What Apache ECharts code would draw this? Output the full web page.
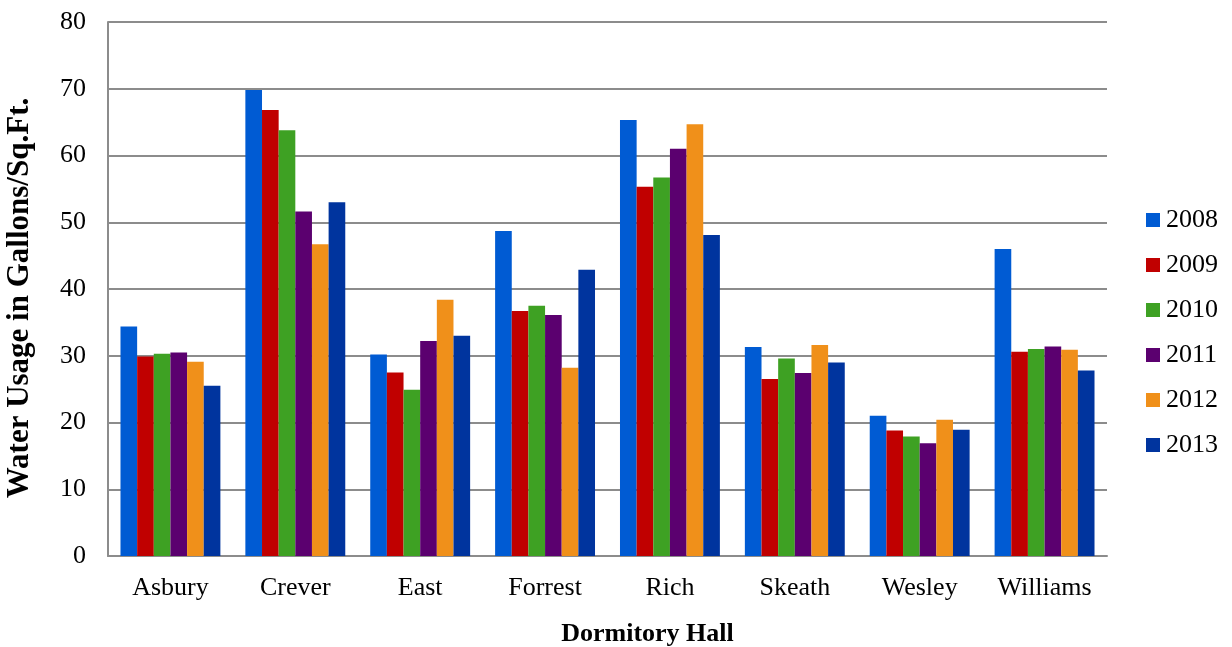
<!DOCTYPE html>
<html>
<head>
<meta charset="utf-8">
<script src="https://cdn.jsdelivr.net/npm/echarts@6/dist/echarts.min.js"></script>
<style>html,body{margin:0;padding:0;background:#fff}#c{width:1232px;height:647px}</style>
</head>
<body>
<div id="c"></div>
<script>
const categories = ['Asbury','Crever','East','Forrest','Rich','Skeath','Wesley','Williams'];
const years = ['2008','2009','2010','2011','2012','2013'];
const colors = ['#005BD3','#C00000','#3EA123','#5B006F','#F0901A','#00349E'];
const v2008 = [34.4, 69.8, 30.2, 48.7, 65.3, 31.3, 21.0, 46.0];
const v2009 = [29.9, 66.8, 27.5, 36.7, 55.3, 26.5, 18.8, 30.6];
const v2010 = [30.3, 63.8, 24.9, 37.5, 56.7, 29.6, 17.9, 31.0];
const v2011 = [30.5, 51.6, 32.2, 36.1, 61.0, 27.4, 16.9, 31.4];
const v2012 = [29.1, 46.7, 38.4, 28.2, 64.7, 31.6, 20.4, 30.9];
const v2013 = [25.5, 53.0, 33.0, 42.9, 48.1, 29.0, 18.9, 27.8];
const seriesValues = [v2008, v2009, v2010, v2011, v2012, v2013];
const yTicks = [0,10,20,30,40,50,60,70,80];

const font = 'Liberation Serif, Times New Roman, serif';
const chart = echarts.init(document.getElementById('c'));
chart.setOption({
  animation: false,
  textStyle: {fontFamily: font},
  grid: {left: 108, right: 125, top: 22, bottom: 91, containLabel: false, outerBoundsMode: 'none'},
  legend: {
    orient: 'vertical', left: 1141, top: 202,
    itemWidth: 14, itemHeight: 14, itemGap: 19,
    icon: 'rect',
    textStyle: {fontFamily: font, fontSize: 26, color: '#000', padding: [0,0,0,1]},
    data: years
  },
  xAxis: {
    type: 'category', data: categories,
    name: 'Dormitory Hall', nameLocation: 'middle', nameGap: 65,
    nameTextStyle: {fontFamily: font, fontSize: 26, fontWeight: 'bold', color: '#000', padding: [0, 0, 0, 80]},
    axisLine: {lineStyle: {color: '#8c8c8c', width: 2}},
    axisTick: {show: false},
    axisLabel: {fontFamily: font, fontSize: 26, color: '#000', margin: 19}
  },
  yAxis: {
    type: 'value', min: 0, max: 80, interval: 10,
    name: 'Water Usage in Gallons/Sq.Ft.', nameLocation: 'middle', nameGap: 73,
    nameTextStyle: {fontFamily: font, fontSize: 31, fontWeight: 'bold', color: '#000', padding: [0, 18, 0, 0]},
    axisLine: {show: true, lineStyle: {color: '#8c8c8c', width: 2}},
    axisTick: {show: false},
    axisLabel: {fontFamily: font, fontSize: 26, color: '#000', margin: 22,
      formatter: v => yTicks.includes(v) ? String(v) : ''},
    splitLine: {lineStyle: {color: '#8c8c8c', width: 2}}
  },
  series: years.map((y, i) => ({
    name: y, type: 'bar', data: seriesValues[i],
    barGap: '0%', barCategoryGap: '20%',
    itemStyle: {color: colors[i]}
  }))
});
</script>
</body>
</html>
